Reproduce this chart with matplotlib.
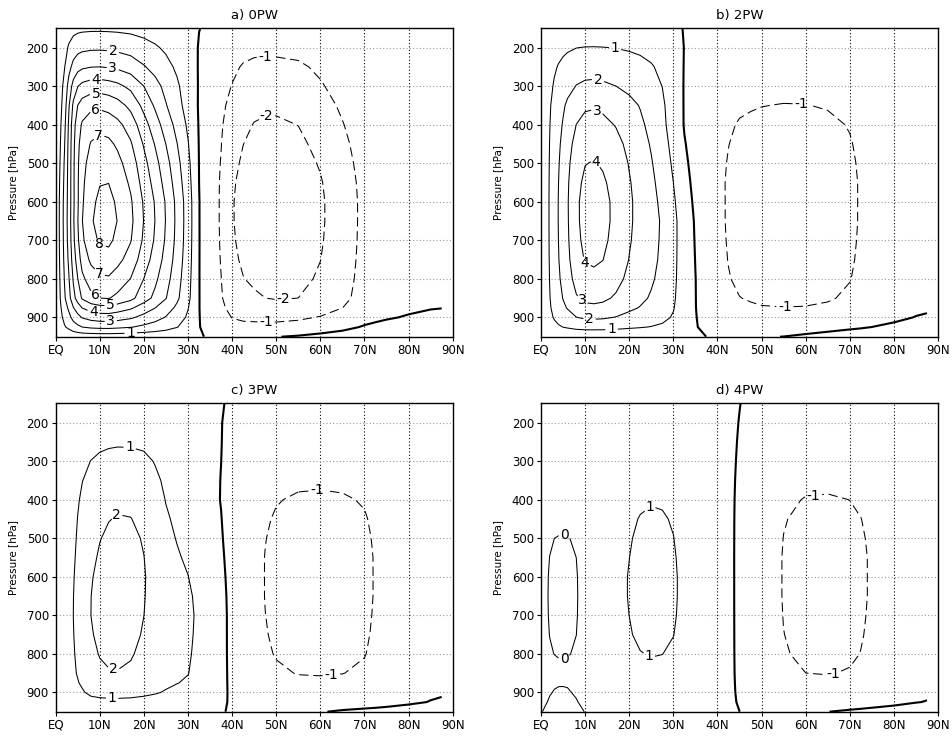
import numpy as np
import matplotlib
matplotlib.use("Agg")
import matplotlib.pyplot as plt

# ---------------- grid (latitude, pressure) ----------------
LAT = [0, 1, 2, 3, 4, 5, 6, 8, 10, 12, 14, 17, 20, 22.5, 25, 27.5, 30, 32.5, 35, 37.5,
       40, 42.5, 45, 47.5, 50, 55, 60, 65, 70, 72.5, 75, 80, 85, 87.5]
PRES = [150, 200, 250, 300, 350, 400, 450, 500, 550, 600, 650, 700, 750, 800, 850,
        875, 900, 925, 950]

# Each circulation cell: amplitude, latitude profile in the lower troposphere (F),
# latitude profile aloft (F_UP), weight of the upper profile per level (W),
# vertical profile (G) and a shape exponent (K).

# ---------------- panel a) 0PW ----------------
A_HAD_AMP, A_HAD_K = 8.4, 0.3
A_HAD_F = [0.03, 0.14, 0.28, 0.41, 0.58, 0.71, 0.83, 0.94, 0.99, 1.00, 0.95, 0.86, 0.71,
           0.595, 0.47, 0.33, 0.19, 0.04, 0.01] + [0] * 15
A_HAD_F_UP = [0.02, 0.1, 0.23, 0.47, 0.7, 0.85, 0.93, 0.99, 1.0, 0.97, 0.92, 0.8, 0.61,
              0.46, 0.32, 0.2, 0.1, 0.02] + [0] * 16
A_HAD_W = [1, 1, 1, 1, 1, 0.75, 0.5, 0.3, 0.15, 0, 0, 0, 0, 0, 0, 0, 0, 0, 0]
A_HAD_G = [0.10, 0.22, 0.357, 0.54, 0.69, 0.80, 0.87, 0.92, 0.955, 0.985, 1.0, 0.975,
           0.91, 0.82, 0.72, 0.56, 0.42, 0.27, 0.05]
A_FER_AMP, A_FER_K = -2.6, 0.3
A_FER_F = [0] * 16 + [0.03, 0.12, 0.25, 0.42, 0.75, 0.86, 0.92, 0.97, 1.0, 0.97, 0.82,
                      0.57, 0.30, 0.22, 0.16, 0.08, 0.03, 0.02]
A_FER_F_UP = [0] * 16 + [0.03, 0.1, 0.22, 0.4, 0.62, 0.85, 0.97, 1.0, 0.99, 0.9, 0.65,
                         0.4, 0.2, 0.14, 0.1, 0.05, 0.02, 0.01]
A_FER_W = [1, 1, 1, 1, 0.8, 0.6, 0.4, 0.25, 0.1, 0, 0, 0, 0, 0, 0, 0, 0, 0, 0]
A_FER_G = [0.08, 0.31, 0.47, 0.60, 0.72, 0.82, 0.89, 0.95, 0.99, 1.0, 1.0, 0.98, 0.94,
           0.88, 0.79, 0.66, 0.50, 0.33, 0.05]
A_POL_AMP, A_POL_K = 0.7, 1.0
A_POL_F = [0] * 22 + [0.05, 0.1, 0.15, 0.3, 0.5, 0.65, 0.8, 0.85, 0.9, 1.0, 1.0, 0.9]
A_POL_G = [0] * 15 + [0.05, 0.3, 0.7, 1.0]

# ---------------- panel b) 2PW ----------------
B_HAD_AMP, B_HAD_K = 4.4, 0.7
B_HAD_F = [0.03, 0.13, 0.25, 0.36, 0.465, 0.57, 0.66, 0.87, 0.98, 1.0, 0.97, 0.86, 0.71,
           0.62, 0.53, 0.43, 0.30, 0.12, 0.04, 0.01] + [0] * 14
B_HAD_F_UP = [0.03, 0.13, 0.25, 0.36, 0.465, 0.57, 0.68, 0.88, 0.98, 1.0, 0.96, 0.86,
              0.72, 0.6, 0.47, 0.32, 0.15, 0.03] + [0] * 16
B_HAD_W = [1, 1, 1, 1, 1, 1, 0.8, 0.6, 0.4, 0.2, 0, 0, 0, 0, 0, 0, 0, 0, 0]
B_HAD_G = [0.06, 0.235, 0.37, 0.5, 0.66, 0.76, 0.85, 0.92, 0.97, 1.0, 1.0, 0.98, 0.94,
           0.86, 0.74, 0.64, 0.49, 0.3, 0.05]
B_FER_AMP, B_FER_K = -1.4, 0.5
B_FER_F = [0] * 16 + [0.01, 0.05, 0.12, 0.3, 0.6, 0.76, 0.87, 0.92, 0.96, 1.0, 0.99,
                      0.93, 0.8, 0.68, 0.55, 0.3, 0.12, 0.08]
B_FER_F_UP = [0] * 16 + [0.05, 0.15, 0.3, 0.45, 0.62, 0.76, 0.87, 0.92, 0.96, 1.0, 0.99,
                         0.93, 0.8, 0.68, 0.55, 0.3, 0.12, 0.08]
B_FER_W = [1, 1, 1, 1, 0.9, 0.8, 0.7, 0.6, 0.5, 0.4, 0.3, 0.2, 0.1, 0, 0, 0, 0, 0, 0]
B_FER_G = [0.2, 0.32, 0.45, 0.58, 0.73, 0.85, 0.92, 0.97, 1.0, 1.0, 1.0, 0.98, 0.95,
           0.9, 0.8, 0.72, 0.5, 0.3, 0.03]
B_POL_AMP, B_POL_K = 0.5, 1.0
B_POL_F = [0] * 25 + [0.1, 0.3, 0.5, 0.7, 0.75, 0.8, 0.9, 1.0, 1.0]
B_POL_G = [0] * 15 + [0.05, 0.3, 0.7, 1.0]

# ---------------- panel c) 3PW ----------------
C_HAD_AMP, C_HAD_K = 2.35, 0.3
C_HAD_F = [0.02, 0.1, 0.2, 0.31, 0.43, 0.52, 0.62, 0.86, 0.95, 0.99, 1.0, 0.96, 0.86,
           0.76, 0.64, 0.56, 0.5, 0.38, 0.24, 0.15, 0.06, 0.02] + [0] * 12
C_HAD_F_UP = [0.0, 0.05, 0.12, 0.22, 0.35, 0.48, 0.58, 0.75, 0.88, 0.96, 1.0, 0.99, 0.9,
              0.7, 0.5, 0.38, 0.27, 0.17, 0.1, 0.06, 0.03, 0.01] + [0] * 12
C_HAD_W = [1, 1, 1, 1, 1, 1, 0.85, 0.7, 0.5, 0.3, 0.1, 0, 0, 0, 0, 0, 0, 0, 0]
C_HAD_G = [0.1, 0.22, 0.38, 0.55, 0.68, 0.79, 0.87, 0.93, 0.97, 1.0, 1.0, 0.99, 0.96,
           0.91, 0.84, 0.74, 0.58, 0.33, 0.05]
C_FER_AMP, C_FER_K = -1.3, 0.3
C_FER_F = [0] * 17 + [0.02, 0.07, 0.12, 0.25, 0.45, 0.62, 0.78, 0.88, 0.98, 1.0, 0.97,
                      0.87, 0.74, 0.6, 0.35, 0.15, 0.1]
C_FER_G = [0.08, 0.2, 0.33, 0.5, 0.7, 0.84, 0.92, 0.97, 1.0, 1.0, 1.0, 0.98, 0.95, 0.9,
           0.8, 0.7, 0.55, 0.35, 0.08]
C_POL_AMP, C_POL_K = 0.35, 1.0
C_POL_F = [0] * 26 + [0.2, 0.5, 0.7, 0.75, 0.8, 0.9, 1.0, 1.0]
C_POL_G = [0] * 15 + [0.05, 0.15, 0.35, 1.0]

# ---------------- panel d) 4PW ----------------
D_HAD_AMP, D_HAD_K = 1.35, 1.0
D_HAD_F = [0.3, 0.32, 0.33, 0.34, 0.35, 0.36, 0.37, 0.4, 0.43, 0.47, 0.52, 0.62, 0.76,
           0.92, 1.0, 0.96, 0.82, 0.6, 0.4, 0.25, 0.13, 0.07, 0.03] + [0] * 11
D_HAD_G = [0.15, 0.25, 0.35, 0.45, 0.57, 0.7, 0.82, 0.9, 0.96, 1.0, 1.0, 0.97, 0.9, 0.77,
           0.6, 0.5, 0.4, 0.25, 0.08]
D_DIP1_AMP, D_DIP1_K = -0.8, 1.0
D_DIP1_F = [0.3, 0.45, 0.62, 0.78, 0.92, 1.0, 0.98, 0.75, 0.35, 0.1] + [0] * 24
D_DIP1_G = [0] * 6 + [0.25, 0.65, 0.85, 0.97, 1.0, 0.95, 0.83, 0.62, 0.3, 0.1, 0, 0, 0]
D_DIP2_AMP, D_DIP2_K = -0.5, 1.0
D_DIP2_F = [0.1, 0.35, 0.6, 0.8, 0.95, 1.0, 0.95, 0.6, 0.15] + [0] * 25
D_DIP2_G = [0] * 15 + [0.45, 0.8, 0.95, 1.0]
D_FER_AMP, D_FER_K = -1.3, 0.3
D_FER_F = [0] * 21 + [0.02, 0.08, 0.2, 0.4, 0.8, 0.97, 1.0, 0.93, 0.84, 0.72, 0.45, 0.22,
                      0.15]
D_FER_G = [0.1, 0.2, 0.32, 0.47, 0.65, 0.82, 0.92, 0.97, 1.0, 1.0, 1.0, 0.98, 0.95, 0.9,
           0.79, 0.68, 0.55, 0.35, 0.1]
D_POL_AMP, D_POL_K = 0.35, 1.0
D_POL_F = [0] * 26 + [0.1, 0.35, 0.6, 0.7, 0.8, 0.9, 1.0, 1.0]
D_POL_G = [0] * 15 + [0.05, 0.15, 0.35, 1.0]

# ---------------- titles, levels, label spots ----------------
TITLES = ["a) 0PW", "b) 2PW", "c) 3PW", "d) 4PW"]
POS_LEVELS = [[1, 2, 3, 4, 5, 6, 7, 8], [1, 2, 3, 4], [1, 2], [1]]
NEG_LEVELS = [[-2, -1], [-1], [-1], [-1]]
POS_LABEL_AT = [
    [(13, 208), (13, 250), (9.1, 281), (9.1, 319), (9.1, 362), (9.1, 418), (9.5, 718),
     (9.5, 790), (8.5, 850), (12.5, 872), (8.5, 890), (12.5, 912), (17, 940)],
    [(16.8, 202), (13, 280), (13, 357), (13, 491), (9.2, 772), (9.2, 858), (11, 903),
     (16, 933)],
    [(16.8, 262), (13.1, 429), (13.1, 843), (12.8, 915)],
    [(24.3, 414), (24.3, 811)],
]
NEG_LABEL_AT = [
    [(47.4, 205), (47.8, 368), (51.6, 859), (47.7, 919)],
    [(59, 343), (55.3, 876)],
    [(59.2, 373), (62.6, 864)],
    [(61.7, 379), (66.2, 853)],
]
ZERO_LABEL_AT = [[], [], [], [(5.4, 491), (5.4, 816)]]

LAT_A = np.array(LAT, float)
PRES_A = np.array(PRES, float)


def cell(amp, f, g, k, f_up=None, w=None):
    F = np.asarray(f, float)[None, :] * np.ones((len(PRES), 1))
    if f_up is not None:
        wv = np.asarray(w, float)[:, None]
        F = (1 - wv) * F + wv * np.asarray(f_up, float)[None, :]
    F = np.clip(F, 1e-9, 1.0)
    G = np.clip(np.asarray(g, float), 1e-9, 1.0)[:, None]
    return amp * (F ** -k + G ** -k - 1.0) ** (-1.0 / k)


FIELDS = [
    cell(A_HAD_AMP, A_HAD_F, A_HAD_G, A_HAD_K, A_HAD_F_UP, A_HAD_W)
    + cell(A_FER_AMP, A_FER_F, A_FER_G, A_FER_K, A_FER_F_UP, A_FER_W)
    + cell(A_POL_AMP, A_POL_F, A_POL_G, A_POL_K),
    cell(B_HAD_AMP, B_HAD_F, B_HAD_G, B_HAD_K, B_HAD_F_UP, B_HAD_W)
    + cell(B_FER_AMP, B_FER_F, B_FER_G, B_FER_K, B_FER_F_UP, B_FER_W)
    + cell(B_POL_AMP, B_POL_F, B_POL_G, B_POL_K),
    cell(C_HAD_AMP, C_HAD_F, C_HAD_G, C_HAD_K, C_HAD_F_UP, C_HAD_W)
    + cell(C_FER_AMP, C_FER_F, C_FER_G, C_FER_K)
    + cell(C_POL_AMP, C_POL_F, C_POL_G, C_POL_K),
    cell(D_HAD_AMP, D_HAD_F, D_HAD_G, D_HAD_K) + cell(D_DIP1_AMP, D_DIP1_F, D_DIP1_G, D_DIP1_K)
    + cell(D_DIP2_AMP, D_DIP2_F, D_DIP2_G, D_DIP2_K) + cell(D_FER_AMP, D_FER_F, D_FER_G, D_FER_K)
    + cell(D_POL_AMP, D_POL_F, D_POL_G, D_POL_K),
]

W, H = 953, 736
fig = plt.figure(figsize=(W / 100, H / 100), dpi=100)
boxes = [(55.7, 28.3), (541.0, 28.3), (55.7, 403.3), (541.0, 403.3)]
AX_W, AX_H = 397.0, 308.4

X, Y = np.meshgrid(LAT_A, PRES_A)
LABEL_FS = 10
THIN, THICK = 0.75, 1.5


def flat_labels(texts):
    for t in texts:
        t.set_rotation(0)


for i in range(4):
    x0, y0 = boxes[i]
    ax = fig.add_axes([x0 / W, 1 - (y0 + AX_H) / H, AX_W / W, AX_H / H])
    Z = FIELDS[i]

    cs_p = ax.contour(X, Y, Z, levels=POS_LEVELS[i], colors="k", linewidths=THIN,
                      linestyles="solid")
    cs_n = ax.contour(X, Y, Z, levels=NEG_LEVELS[i], colors="k", linewidths=THIN,
                      linestyles=[(0, (9, 4.5))])
    z_thick = np.ma.masked_where(X < 12, Z)
    ax.contour(X, Y, z_thick, levels=[0], colors="k", linewidths=THICK)
    z_thin = np.ma.masked_where(X >= 14, Z)
    cs_z = ax.contour(X, Y, z_thin, levels=[0], colors="k", linewidths=THIN)

    flat_labels(ax.clabel(cs_p, fmt={lv: str(lv) for lv in POS_LEVELS[i]},
                          manual=POS_LABEL_AT[i], inline=True, inline_spacing=2,
                          fontsize=LABEL_FS))
    flat_labels(ax.clabel(cs_n, fmt={lv: str(lv) for lv in NEG_LEVELS[i]},
                          manual=NEG_LABEL_AT[i], inline=True, inline_spacing=2,
                          fontsize=LABEL_FS))
    if ZERO_LABEL_AT[i]:
        flat_labels(ax.clabel(cs_z, fmt={0: "0"}, manual=ZERO_LABEL_AT[i], inline=True,
                              inline_spacing=2, fontsize=LABEL_FS))

    ax.set_xlim(0, 90)
    ax.set_ylim(950, 150)
    ax.set_xticks(range(0, 91, 10))
    ax.set_xticklabels(["EQ"] + [f"{v}N" for v in range(10, 91, 10)])
    ax.set_yticks(range(200, 901, 100))
    for v in range(10, 90, 10):
        ax.axvline(v, color="k", lw=0.8, ls=(0, (1, 2)), zorder=0.5)
    for v in range(200, 901, 100):
        ax.axhline(v, color="#9a9a9a", lw=0.8, ls=(0, (1, 2)), zorder=0.5)
    ax.tick_params(direction="out", length=3, width=0.8, labelsize=8.5, pad=2)
    for s in ax.spines.values():
        s.set_linewidth(1.0)
    ax.set_ylabel("Pressure [hPa]", fontsize=7.5, labelpad=6)
    ax.set_title(TITLES[i], fontsize=9.5, pad=7)

fig.savefig("out.png", dpi=100)
